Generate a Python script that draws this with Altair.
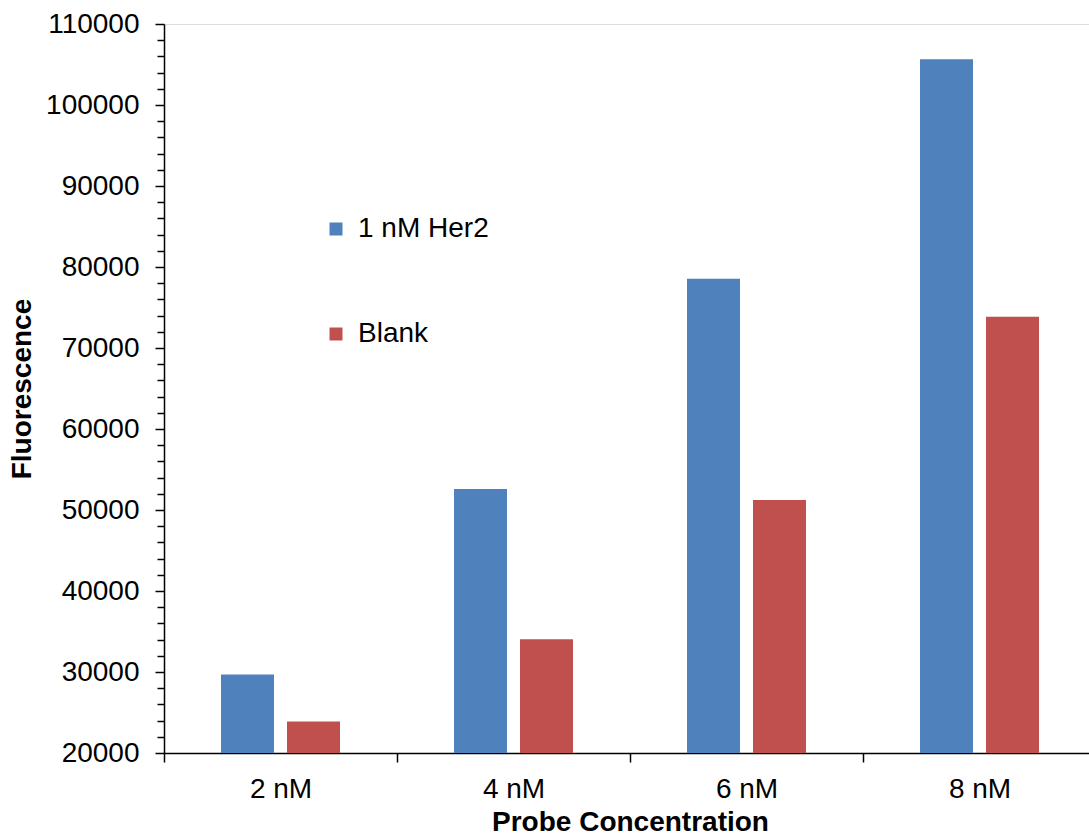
import altair as alt
import pandas as pd

conc = ["2 nM", "4 nM", "6 nM", "8 nM"]
series = ["1 nM Her2", "Blank"]
her2 = [29700, 52600, 78550, 105650]
blank = [23900, 34050, 51250, 73850]
colors = ["#4F81BD", "#C0504D"]
y_ticks = list(range(20000, 110001, 2000))

rows = []
for c, h, b in zip(conc, her2, blank):
    rows.append({"conc": c, "series": series[0], "value": h})
    rows.append({"conc": c, "series": series[1], "value": b})
df = pd.DataFrame(rows)

FONT = "Liberation Sans"
FS = 28

chart = alt.Chart(df).mark_bar().encode(
    x=alt.X(
        "conc:N",
        sort=conc,
        scale=alt.Scale(range=[0, 932], paddingInner=0, paddingOuter=0),
        axis=alt.Axis(
            title="Probe Concentration",
            labelAngle=0,
            tickBand="extent",
            tickSize=9,
            tickColor="black",
            tickWidth=1.5,
            domainColor="black",
            domainWidth=1.5,
            labelFont=FONT,
            labelFontSize=FS,
            labelColor="black",
            labelPadding=13,
            titleFont=FONT,
            titleFontSize=FS,
            titleFontWeight="bold",
            titleColor="black",
            titlePadding=5,
            titleX=466,
        ),
    ),
    xOffset=alt.XOffset(
        "series:N", sort=series, scale=alt.Scale(paddingInner=0.197, paddingOuter=0.8636)
    ),
    y=alt.Y(
        "value:Q",
        scale=alt.Scale(domain=[20000, 110000], nice=False, zero=False, clamp=True),
        axis=alt.Axis(
            title="Fluorescence",
            values=y_ticks,
            format="d",
            labelExpr="datum.value % 10000 === 0 ? datum.label : ''",
            labelOverlap=False,
            grid=False,
            tickSize={"condition": {"test": "datum.value % 10000 === 0", "value": 9}, "value": 7},
            tickColor="black",
            tickWidth=1.5,
            domainColor="black",
            domainWidth=1.5,
            labelFont=FONT,
            labelFontSize=FS,
            labelColor="black",
            labelPadding=16,
            titleFont=FONT,
            titleFontSize=FS,
            titleFontWeight="bold",
            titleColor="black",
            titlePadding=9,
        ),
    ),
    y2=alt.datum(20000),
    color=alt.Color(
        "series:N",
        scale=alt.Scale(domain=series, range=colors),
        legend=alt.Legend(
            title=None,
            orient="none",
            legendX=158,
            legendY=191,
            direction="vertical",
            symbolType="square",
            symbolSize=169,
            symbolStrokeWidth=0,
            labelFont=FONT,
            labelFontSize=FS,
            labelColor="black",
            labelOffset=8,
            rowPadding=77,
            padding=0,
        ),
    ),
).properties(
    width=925,
    height=729,
    autosize=alt.AutoSizeParams(type="none"),
    padding={"left": 164, "top": 24, "right": 0, "bottom": 84},
).configure_view(stroke=None).configure(background="white")

chart.save("out.html", embed_options={"renderer": "svg", "actions": False})
